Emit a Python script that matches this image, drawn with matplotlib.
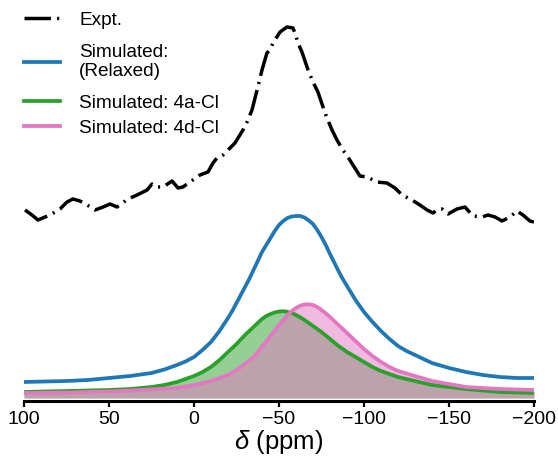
import matplotlib
matplotlib.use("Agg")
import matplotlib.pyplot as plt

plt.rcParams['font.family'] = ['Liberation Sans', 'DejaVu Sans']
plt.rcParams['mathtext.fontset'] = 'custom'
plt.rcParams['mathtext.it'] = 'Liberation Sans:italic'
plt.rcParams['mathtext.rm'] = 'Liberation Sans'

# ---------------- data ----------------
expt_ppm = [99.4, 95.3, 91.8, 87.6, 84.7, 78.8, 74.7, 71.2, 67.1, 62.9, 58.2, 53.5,
            49.4, 45.3, 38.8, 33.5, 27.6, 24.7, 21.8, 18.2, 12.9, 9.4, 6.5, 2.4,
            -3.5, -8.2, -11.2, -13.5, -17.1, -24.1, -28.8, -31.2, -34.1, -37.1,
            -40.0, -42.9, -44.7, -46.5, -50.6, -54.7, -58.2, -59.4, -61.2, -63.5,
            -67.1, -70.0, -72.9, -75.9, -78.2, -81.2, -84.1, -87.6, -90.6, -93.5,
            -97.6, -101.8, -107.6, -113.5, -118.2, -122.4, -128.2, -132.9, -137.1,
            -140.6, -142.9, -145.9, -149.4, -154.7, -159.4, -164.1, -169.4, -172.9,
            -177.1, -181.2, -185.9, -190.0, -193.5, -197.6, -200.0]
expt_int = [1.88, 1.83, 1.78, 1.81, 1.83, 1.89, 1.96, 1.99, 1.97, 1.93, 1.88, 1.91,
            1.94, 1.91, 1.99, 2.03, 2.08, 2.14, 2.11, 2.11, 2.17, 2.10, 2.11, 2.16,
            2.23, 2.26, 2.35, 2.40, 2.43, 2.55, 2.68, 2.76, 2.88, 3.08,
            3.28, 3.45, 3.48, 3.55, 3.66, 3.71, 3.70, 3.65, 3.55, 3.46,
            3.28, 3.16, 3.06, 2.91, 2.80, 2.68, 2.58, 2.48, 2.41, 2.33,
            2.22, 2.21, 2.16, 2.15, 2.10, 2.03, 1.98, 1.93, 1.88,
            1.85, 1.88, 1.89, 1.84, 1.89, 1.91, 1.82, 1.81, 1.83,
            1.81, 1.77, 1.81, 1.87, 1.83, 1.77, 1.76]

sim_ppm = [100, 87.5, 75, 62.5, 50, 37.5, 25, 17.5, 10, 5,
           0, -5, -10, -15, -20, -22.5, -25, -27.5, -30, -32.5,
           -35, -37.5, -40, -42.5, -45, -47.5, -50, -52.5, -55, -57.5,
           -60, -62.5, -65, -67.5, -70, -72.5, -75, -77.5, -80, -82.5,
           -85, -87.5, -90, -95, -100, -105, -110, -115, -120, -125,
           -130, -140, -150, -160, -170, -180, -190, -200]
relaxed = [0.16, 0.165, 0.17, 0.18, 0.20, 0.22, 0.25, 0.285, 0.33, 0.365,
           0.41, 0.48, 0.56, 0.67, 0.80, 0.87, 0.95, 1.03, 1.11, 1.19,
           1.28, 1.37, 1.46, 1.53, 1.60, 1.67, 1.73, 1.77, 1.80, 1.815,
           1.82, 1.82, 1.805, 1.775, 1.74, 1.68, 1.61, 1.53, 1.44, 1.355,
           1.27, 1.19, 1.12, 0.98, 0.86, 0.76, 0.67, 0.59, 0.52, 0.47,
           0.43, 0.35, 0.30, 0.26, 0.23, 0.21, 0.20, 0.20]
cl4a = [0.06, 0.065, 0.07, 0.075, 0.08, 0.09, 0.11, 0.13, 0.16, 0.19,
        0.22, 0.26, 0.31, 0.38, 0.46, 0.50, 0.54, 0.585, 0.63, 0.67,
        0.71, 0.75, 0.79, 0.82, 0.84, 0.856, 0.865, 0.868, 0.862, 0.85,
        0.83, 0.807, 0.78, 0.75, 0.72, 0.69, 0.66, 0.625, 0.59, 0.555,
        0.52, 0.49, 0.46, 0.41, 0.36, 0.31, 0.27, 0.24, 0.21, 0.19,
        0.17, 0.13, 0.11, 0.09, 0.075, 0.06, 0.055, 0.05]
cl4d = [0.05, 0.052, 0.055, 0.06, 0.065, 0.075, 0.085, 0.092, 0.10, 0.115,
        0.13, 0.15, 0.17, 0.20, 0.23, 0.255, 0.28, 0.31, 0.34, 0.375,
        0.41, 0.46, 0.515, 0.565, 0.62, 0.675, 0.73, 0.78, 0.83, 0.87,
        0.90, 0.923, 0.935, 0.937, 0.93, 0.91, 0.88, 0.847, 0.81, 0.77,
        0.73, 0.69, 0.65, 0.57, 0.49, 0.42, 0.36, 0.31, 0.27, 0.245,
        0.22, 0.17, 0.14, 0.11, 0.10, 0.09, 0.085, 0.08]

labels = ["Expt.", "Simulated:\n(Relaxed)", "Simulated: 4a-Cl", "Simulated: 4d-Cl"]
xticks = [100, 50, 0, -50, -100, -150, -200]

c_blue = "#1f77b4"
c_green = "#2ca02c"
c_pink = "#e377c2"

# ---------------- figure ----------------
W, H = 558, 458
fig = plt.figure(figsize=(W / 100, H / 100), dpi=100)
ax = fig.add_axes([24 / W, 57 / H, 510 / W, 391 / H])

ax.fill_between(sim_ppm, 0, cl4a, color=c_green, alpha=0.5, lw=0, zorder=1)
ax.fill_between(sim_ppm, 0, cl4d, color=c_pink, alpha=0.5, lw=0, zorder=1)

l_exp, = ax.plot(expt_ppm, expt_int, color="black", lw=2.5,
                 linestyle=(0, (7.6, 1.8, 0.6, 1.8)), zorder=4)
l_rel, = ax.plot(sim_ppm, relaxed, color=c_blue, lw=2.7, zorder=3)
l_a, = ax.plot(sim_ppm, cl4a, color=c_green, lw=2.7, zorder=3)
l_d, = ax.plot(sim_ppm, cl4d, color=c_pink, lw=2.7, zorder=3)

ax.set_xlim(100, -200)
ax.set_ylim(-0.03, 3.88)
ax.set_xticks(xticks)
ax.set_yticks([])
for s in ["top", "left", "right"]:
    ax.spines[s].set_visible(False)
ax.spines["bottom"].set_linewidth(2.2)
ax.tick_params(axis="x", direction="out", length=4, width=1.6, pad=3.5,
               labelsize=14)
ax.set_xlabel(r"$\delta$ (ppm)", fontsize=18.5, labelpad=0)

# legend entries placed individually (pixel rows)
rows_px = [20, 62, 103, 128]
for handle, lab, ypx in zip([l_exp, l_rel, l_a, l_d], labels, rows_px):
    fig.legend(handles=[handle], labels=[lab], loc="center left",
               bbox_to_anchor=(24 / W, 1 - ypx / H),
               bbox_transform=fig.transFigure, frameon=False, fontsize=13.7,
               borderaxespad=0, borderpad=0, handlelength=1.9,
               handletextpad=1.0)

fig.savefig("out.png", dpi=100)
